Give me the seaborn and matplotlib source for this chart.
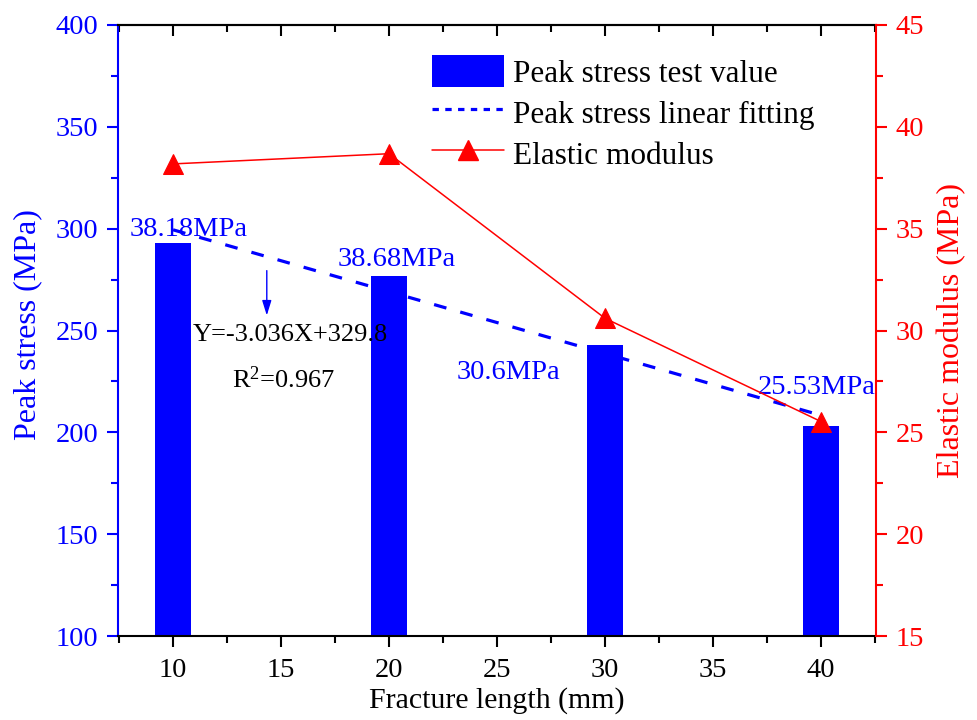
import numpy as np
import pandas as pd
import matplotlib
matplotlib.use("Agg")
import matplotlib.pyplot as plt
from matplotlib.ticker import MultipleLocator
from matplotlib.patches import Patch
from matplotlib.lines import Line2D
import seaborn as sns

# Measured data
fracture_length = [10, 20, 30, 40]
peak_stress = [293, 277, 243, 203]
elastic_modulus = [38.18, 38.68, 30.6, 25.53]

# Linear fit of peak stress against fracture length
fit_slope = -3.036
fit_intercept = 329.8
fit_r2 = 0.967

series_names = ["Peak stress test value", "Peak stress linear fitting", "Elastic modulus"]
x_label = "Fracture length (mm)"
y_left_label = "Peak stress (MPa)"
y_right_label = "Elastic modulus (MPa)"

# Offsets (points) of each modulus label from the top of its bar
label_offsets = [(11.5, 5), (5.4, 7.2), (-69.5, -24.3), (-2.9, 23)]

sns.set_style("ticks")
plt.rcParams["font.family"] = ["Liberation Serif", "DejaVu Serif"]
plt.rcParams["mathtext.fontset"] = "custom"
plt.rcParams["mathtext.rm"] = "Liberation Serif"
plt.rcParams["mathtext.it"] = "Liberation Serif:italic"
plt.rcParams["text.color"] = "black"
plt.rcParams["axes.labelcolor"] = "black"

BLUE = "#0000FF"
RED = "#FF0000"

fig = plt.figure(figsize=(9.78, 7.2), dpi=100)
ax = fig.add_axes([118 / 978, 1 - 636 / 720, 758 / 978, 611 / 720])

df = pd.DataFrame({"length": fracture_length, "stress": peak_stress})
sns.barplot(data=df, x="length", y="stress", native_scale=True, width=0.165,
            color=BLUE, saturation=1, linewidth=0, ax=ax, zorder=2)

fit_x = np.array([min(fracture_length), max(fracture_length)], dtype=float)
fit_y = fit_slope * fit_x + fit_intercept
sns.lineplot(x=fit_x, y=fit_y, ax=ax, color=BLUE, lw=2.3,
             linestyle=(0, (4, 4.5)), zorder=3)

ax.set_xlim(7.45, 42.55)
ax.set_ylim(100, 400)
ax.xaxis.set_major_locator(MultipleLocator(5))
ax.xaxis.set_minor_locator(MultipleLocator(2.5))
ax.yaxis.set_major_locator(MultipleLocator(50))
ax.yaxis.set_minor_locator(MultipleLocator(25))

ax.tick_params(axis="x", which="both", direction="out", bottom=True, top=False,
               color="black", labelcolor="black", labelsize=20.5, width=1.5, pad=8)
ax.tick_params(axis="x", which="major", length=8)
ax.tick_params(axis="x", which="minor", length=5)
ax.tick_params(axis="y", which="both", direction="out", left=True, right=False,
               color=BLUE, labelcolor=BLUE, labelsize=20.5, width=1.5, pad=6)
ax.tick_params(axis="y", which="major", length=8)
ax.tick_params(axis="y", which="minor", length=5)

for side, col in [("left", BLUE), ("bottom", "black"), ("top", "black")]:
    ax.spines[side].set_color(col)
    ax.spines[side].set_linewidth(1.5)
ax.spines["right"].set_visible(False)

# Inward ticks along the top edge
top = ax.secondary_xaxis("top")
top.xaxis.set_major_locator(MultipleLocator(5))
top.xaxis.set_minor_locator(MultipleLocator(2.5))
top.tick_params(axis="x", which="both", direction="in", labeltop=False,
                color="black", width=1.5)
top.tick_params(axis="x", which="major", length=8)
top.tick_params(axis="x", which="minor", length=5)
top.spines["top"].set_linewidth(1.5)
top.spines["top"].set_color("black")

ax.set_xlabel(x_label, fontsize=21.5, color="black")
ax.xaxis.set_label_coords(0.5, -0.083)
ax.set_ylabel(y_left_label, fontsize=23, color=BLUE)
ax.yaxis.set_label_coords(-0.100, 0.51)

# Modulus value labels above the bars
for xv, yv, ev, off in zip(fracture_length, peak_stress, elastic_modulus, label_offsets):
    ax.annotate(f"{ev:g}MPa", xy=(xv, yv), xytext=off, textcoords="offset points",
                ha="center", va="baseline", fontsize=20.5, color=BLUE, zorder=4)

# Fit equation with pointer arrow
ax.text(0.228, 0.482, f"Y={fit_slope:g}X+{fit_intercept:g}", transform=ax.transAxes,
        ha="center", va="baseline", fontsize=19, color="black", zorder=5)
ax.text(0.219, 0.4066, r"R$^{2}$" + f"={fit_r2:g}", transform=ax.transAxes,
        ha="center", va="baseline", fontsize=19, color="black", zorder=5)
ax.annotate("", xy=(14.34, 257.4), xytext=(14.34, 279.4),
            arrowprops=dict(arrowstyle="-|>,head_length=0.45,head_width=0.14",
                            color=BLUE, lw=1.0, mutation_scale=20,
                            shrinkA=0, shrinkB=0), zorder=5)

# Elastic modulus on the right axis
ax2 = ax.twinx()
sns.lineplot(x=fracture_length, y=elastic_modulus, ax=ax2, color=RED, lw=1.1,
             marker="^", markersize=15, markeredgecolor=RED, markerfacecolor=RED,
             zorder=4)
ax2.set_ylim(15, 45)
ax2.set_xlim(7.45, 42.55)
ax2.yaxis.set_major_locator(MultipleLocator(5))
ax2.yaxis.set_minor_locator(MultipleLocator(2.5))
ax2.tick_params(axis="y", which="both", direction="out", right=True, left=False,
                color=RED, labelcolor=RED, labelsize=20.5, width=1.5, pad=6)
ax2.tick_params(axis="y", which="major", length=8)
ax2.tick_params(axis="y", which="minor", length=5)
for side in ["left", "top", "bottom"]:
    ax2.spines[side].set_visible(False)
ax2.spines["right"].set_color(RED)
ax2.spines["right"].set_linewidth(1.5)
ax2.set_ylabel(y_right_label, fontsize=23, color=RED)
ax2.yaxis.set_label_coords(1.080, 0.50)

handles = [
    Patch(facecolor=BLUE, edgecolor=BLUE, linewidth=0),
    Line2D([], [], color=BLUE, lw=2.3, linestyle=(0, (2, 2))),
    Line2D([], [], color=RED, lw=1.1, marker="^", markersize=15,
           markerfacecolor=RED, markeredgecolor=RED),
]
leg = ax2.legend(handles, series_names, loc="upper left",
                 bbox_to_anchor=(432 / 978, 1 - 55 / 720), bbox_transform=fig.transFigure,
                 frameon=False, fontsize=22.5, borderpad=0, borderaxespad=0,
                 handlelength=2.3, handleheight=1.2, handletextpad=0.3,
                 labelspacing=0.24)
for t in leg.get_texts():
    t.set_color("black")

fig.savefig("out.png", dpi=100)
